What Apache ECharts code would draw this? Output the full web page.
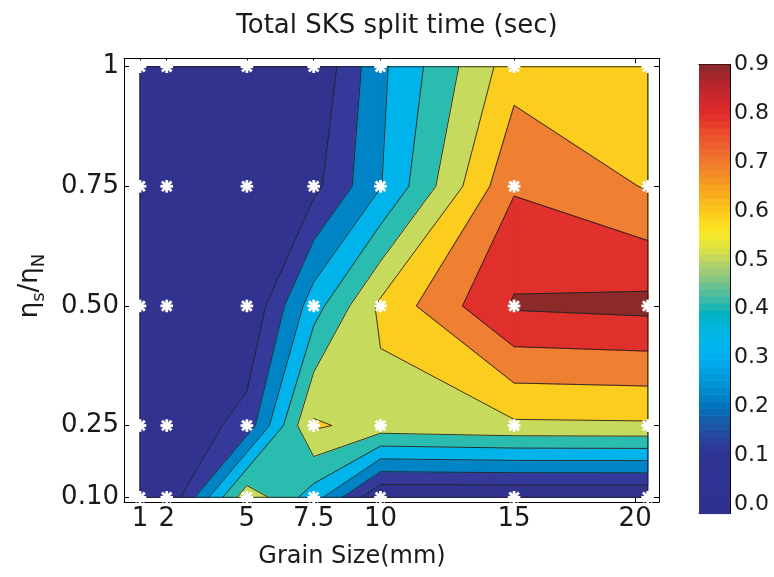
<!DOCTYPE html>
<html lang="en">
<head>
<meta charset="UTF-8">
<title>Total SKS split time</title>
<script src="https://cdn.jsdelivr.net/npm/echarts/dist/echarts.min.js"></script>
<style>
    body { margin: 0; background: #fff; }
    #main { width: 774px; height: 577px; }
</style>
</head>
<body>
<div id="main"></div>
<script>
// grid of the contour data (x = grain size, y = eta_s/eta_N)
var xVals = [1, 2, 5, 7.5, 10, 15, 20];
var yVals = [0.1, 0.25, 0.5, 0.75, 1];
// split time (sec), one row per y value, left to right in x
var zRow010 = [0.00, 0.00, 0.571, 0.349, 0.00, 0.00, 0.00];
var zRow025 = [0.02, 0.01, 0.140, 0.615, 0.560, 0.583, 0.587];
var zRow050 = [0.01, 0.00, 0.000, 0.357, 0.622, 0.912, 0.929];
var zRow075 = [0.01, 0.01, 0.010, 0.071, 0.295, 0.790, 0.693];
var zRow100 = [0.01, 0.01, 0.000, 0.006, 0.278, 0.657, 0.660];
var zGrid = [zRow010, zRow025, zRow050, zRow075, zRow100];

var levels = [0.1, 0.2, 0.3, 0.4, 0.5, 0.6, 0.7, 0.8, 0.9];
var xTickValues = [1, 2, 5, 7.5, 10, 15, 19.53];
var xTickLabels = ['1', '2', '5', '7.5', '10', '15', '20'];
var yTickValues = [0.1, 0.25, 0.5, 0.75, 1];
var yTickLabels = ['0.10', '0.25', '0.50', '0.75', '1'];
var cbTicks = [0, 0.1, 0.2, 0.3, 0.4, 0.5, 0.6, 0.7, 0.8, 0.9];

// fill colour of each band (below 0.1, 0.1-0.2, ... above 0.9)
var bandColors = ['#31338f', '#35399a', '#0084c6', '#00b4eb', '#2bbcb0',
                  '#c6db5e', '#fbcd1e', '#ef7f31', '#e0302b', '#8b2a28'];
// colour bar ramp
var cbStops = [[-0.02, '#2f3191'], [0.10, '#2e3392'], [0.12, '#2c3a96'], [0.14, '#2447a0'],
               [0.17, '#155ba8'], [0.20, '#0072bc'], [0.23, '#0088cc'], [0.27, '#00a0e0'],
               [0.30, '#00aeef'], [0.33, '#00b5ec'], [0.36, '#00b5dc'], [0.39, '#00b3c3'],
               [0.41, '#2cb8ad'], [0.44, '#60bf97'], [0.47, '#93c97b'], [0.50, '#bcd562'],
               [0.52, '#d8df45'], [0.55, '#f3e92b'], [0.57, '#fde022'], [0.60, '#fcc81a'],
               [0.65, '#f7a11f'], [0.70, '#f07a2e'], [0.75, '#ec552c'], [0.80, '#e12b2b'],
               [0.86, '#b8262d'], [0.90, '#86282b']];
var CB_MIN = -0.0195, CB_MAX = 0.9, CB_STEPS = 64;

var FONT = 'DejaVu Sans';
var INK = '#1a1a1a';

function hexToRgb(h) {
    return [parseInt(h.substr(1, 2), 16), parseInt(h.substr(3, 2), 16), parseInt(h.substr(5, 2), 16)];
}
function rampColor(v) {
    if (v <= cbStops[0][0]) return cbStops[0][1];
    for (var k = 1; k < cbStops.length; k++) {
        if (v <= cbStops[k][0]) {
            var a = cbStops[k - 1], b = cbStops[k];
            var t = (v - a[0]) / (b[0] - a[0]);
            var ca = hexToRgb(a[1]), cb = hexToRgb(b[1]);
            return 'rgb(' + ca.map(function (c, n) { return Math.round(c + t * (cb[n] - c)); }).join(',') + ')';
        }
    }
    return cbStops[cbStops.length - 1][1];
}

function cellCorners(i, j) {
    return [
        {x: xVals[i], y: yVals[j], z: zGrid[j][i]},
        {x: xVals[i + 1], y: yVals[j], z: zGrid[j][i + 1]},
        {x: xVals[i + 1], y: yVals[j + 1], z: zGrid[j + 1][i + 1]},
        {x: xVals[i], y: yVals[j + 1], z: zGrid[j + 1][i]}
    ];
}

// region z >= L inside one cell, plus the iso segments (marching squares)
function cutCell(c, L) {
    var up = c.map(function (p) { return p.z >= L; });
    var cross = [];
    for (var k = 0; k < 4; k++) {
        var a = c[k], b = c[(k + 1) % 4];
        if (up[k] !== up[(k + 1) % 4]) {
            var t = (L - a.z) / (b.z - a.z);
            cross[k] = [a.x + t * (b.x - a.x), a.y + t * (b.y - a.y)];
        }
    }
    var polys = [], segs = [];
    var saddle = up[0] === up[2] && up[1] === up[3] && up[0] !== up[1];
    var mid = (c[0].z + c[1].z + c[2].z + c[3].z) / 4;
    if (!saddle || mid >= L) {
        var pts = [];
        for (k = 0; k < 4; k++) {
            if (up[k]) pts.push([c[k].x, c[k].y]);
            if (cross[k]) pts.push(cross[k]);
        }
        if (pts.length >= 3) polys.push(pts);
        if (!saddle) {
            var cs = cross.filter(Boolean);
            if (cs.length === 2) segs.push(cs);
        } else {
            for (k = 0; k < 4; k++) if (!up[k]) segs.push([cross[(k + 3) % 4], cross[k]]);
        }
    } else {
        for (k = 0; k < 4; k++) {
            if (up[k]) {
                polys.push([cross[(k + 3) % 4], [c[k].x, c[k].y], cross[k]]);
                segs.push([cross[(k + 3) % 4], cross[k]]);
            }
        }
    }
    return {polys: polys, segs: segs};
}

var cells = [];
for (var j = 0; j < yVals.length - 1; j++) {
    for (var i = 0; i < xVals.length - 1; i++) {
        cells.push([(xVals[i] + xVals[i + 1]) / 2, (yVals[j] + yVals[j + 1]) / 2, i, j]);
    }
}
// one fill item per band, drawn from the lowest band upwards
var bands = bandColors.map(function (col, m) { return [xVals[0], yVals[0], m]; });

var gridPts = [];
yVals.forEach(function (y) { xVals.forEach(function (x) { gridPts.push([x, y]); }); });

var cbData = [];
for (var s = 0; s < CB_STEPS; s++) {
    var lo = CB_MIN + s * (CB_MAX - CB_MIN) / CB_STEPS;
    var hi = CB_MIN + (s + 1) * (CB_MAX - CB_MIN) / CB_STEPS;
    cbData.push([0.5, (lo + hi) / 2, lo, hi]);
}

function toPix(api, pts) {
    return pts.map(function (p) { return api.coord(p); });
}

function renderBand(params, api) {
    var m = api.value(2);
    var col = bandColors[m];
    var st = {fill: col, stroke: col, lineWidth: 1.2, lineJoin: 'round'};
    var children = [];
    cells.forEach(function (cell) {
        var c = cellCorners(cell[2], cell[3]);
        var polys = m === 0 ? [c.map(function (p) { return [p.x, p.y]; })] : cutCell(c, levels[m - 1]).polys;
        polys.forEach(function (poly) {
            children.push({type: 'polygon', shape: {points: toPix(api, poly)}, style: st});
        });
    });
    return {type: 'group', children: children};
}

function renderLines(params, api) {
    var i = api.value(2), j = api.value(3);
    var c = cellCorners(i, j);
    var lineStyle = {stroke: '#222', lineWidth: 0.9, fill: null};
    var children = [];
    levels.forEach(function (L) {
        cutCell(c, L).segs.forEach(function (sg) {
            children.push({type: 'polyline', shape: {points: toPix(api, sg)}, style: lineStyle});
        });
    });
    var edges = [];
    if (j === 0) edges.push([c[0], c[1]]);
    if (i === xVals.length - 2) edges.push([c[1], c[2]]);
    if (j === yVals.length - 2) edges.push([c[2], c[3]]);
    if (i === 0) edges.push([c[3], c[0]]);
    edges.forEach(function (e) {
        children.push({type: 'polyline', shape: {points: toPix(api, [[e[0].x, e[0].y], [e[1].x, e[1].y]])}, style: lineStyle});
    });
    return {type: 'group', children: children};
}

function renderMarker(params, api) {
    var p = api.coord([api.value(0), api.value(1)]);
    var r = 6.3, d = 4.8;
    var st = {stroke: '#fff', lineWidth: 2.8};
    return {type: 'group', children: [
        {type: 'line', shape: {x1: p[0] - r, y1: p[1], x2: p[0] + r, y2: p[1]}, style: st},
        {type: 'line', shape: {x1: p[0], y1: p[1] - r, x2: p[0], y2: p[1] + r}, style: st},
        {type: 'line', shape: {x1: p[0] - d, y1: p[1] - d, x2: p[0] + d, y2: p[1] + d}, style: st},
        {type: 'line', shape: {x1: p[0] - d, y1: p[1] + d, x2: p[0] + d, y2: p[1] - d}, style: st}
    ]};
}

function renderStrip(params, api) {
    var p1 = api.coord([0, api.value(2)]);
    var p2 = api.coord([1, api.value(3)]);
    return {
        type: 'rect',
        shape: {x: p1[0], y: p2[1], width: p2[0] - p1[0], height: p1[1] - p2[1] + 0.6},
        style: {fill: rampColor(api.value(1))}
    };
}

function pickLabel(values, labels) {
    return function (v) {
        for (var k = 0; k < values.length; k++) {
            if (Math.abs(values[k] - v) < 1e-6) return labels[k];
        }
        return '';
    };
}

var frame = {show: true, onZero: false, lineStyle: {color: '#000', width: 1}};
var noSplit = {show: false};
var tickStyle = {color: '#000', width: 1};

var option = {
    animation: false,
    backgroundColor: '#fff',
    title: {
        text: 'Total SKS split time (sec)',
        left: 392,
        top: 8,
        textAlign: 'center',
        textStyle: {fontFamily: FONT, fontSize: 26, fontWeight: 'normal', color: INK}
    },
    grid: [
        {left: 124, right: 115, top: 58.3, bottom: 75},
        {left: 699, top: 64.5, width: 31, height: 449}
    ],
    xAxis: [
        {type: 'value', gridIndex: 0, min: 0.401, max: 20.423, position: 'bottom',
            axisLine: frame, splitLine: noSplit,
            axisTick: {show: true, inside: true, length: 5, customValues: xTickValues, lineStyle: tickStyle},
            axisLabel: {show: true, customValues: xTickValues, formatter: pickLabel(xTickValues, xTickLabels),
                fontFamily: FONT, fontSize: 26, color: INK, margin: 4}},
        {type: 'value', gridIndex: 0, min: 0.401, max: 20.423, position: 'top',
            axisLine: frame, splitLine: noSplit, axisLabel: {show: false},
            axisTick: {show: true, inside: true, length: 5, customValues: xTickValues, lineStyle: tickStyle}},
        {type: 'value', gridIndex: 1, min: 0, max: 1, position: 'bottom',
            axisLine: frame, splitLine: noSplit, axisTick: {show: false}, axisLabel: {show: false}},
        {type: 'value', gridIndex: 1, min: 0, max: 1, position: 'top',
            axisLine: frame, splitLine: noSplit, axisTick: {show: false}, axisLabel: {show: false}}
    ],
    yAxis: [
        {type: 'value', gridIndex: 0, min: 0.0902, max: 1.0176, position: 'left',
            axisLine: frame, splitLine: noSplit,
            axisTick: {show: true, inside: true, length: 5, customValues: yTickValues, lineStyle: tickStyle},
            axisLabel: {show: true, customValues: yTickValues, formatter: pickLabel(yTickValues, yTickLabels),
                fontFamily: FONT, fontSize: 26, color: INK, margin: 5}},
        {type: 'value', gridIndex: 0, min: 0.0902, max: 1.0176, position: 'right',
            axisLine: frame, splitLine: noSplit, axisLabel: {show: false},
            axisTick: {show: true, inside: true, length: 5, customValues: yTickValues, lineStyle: tickStyle}},
        {type: 'value', gridIndex: 1, min: CB_MIN, max: CB_MAX, position: 'left',
            axisLine: frame, splitLine: noSplit, axisLabel: {show: false},
            axisTick: {show: true, inside: true, length: 4, customValues: cbTicks, lineStyle: tickStyle}},
        {type: 'value', gridIndex: 1, min: CB_MIN, max: CB_MAX, position: 'right',
            axisLine: frame, splitLine: noSplit,
            axisTick: {show: true, inside: true, length: 4, customValues: cbTicks, lineStyle: tickStyle},
            axisLabel: {show: true, customValues: cbTicks, formatter: function (v) { return v.toFixed(1); },
                fontFamily: FONT, fontSize: 22, color: INK, margin: 4}}
    ],
    graphic: [
        {type: 'text', x: 352, y: 557,
            style: {text: 'Grain Size(mm)', font: '24px "DejaVu Sans"', fill: INK, align: 'center', verticalAlign: 'middle'}},
        {type: 'text', x: 30, y: 286, rotation: Math.PI / 2,
            style: {text: '{e|η}{s|s}{e|/η}{s|N}', fill: INK, align: 'center', verticalAlign: 'middle',
                rich: {
                    e: {fontFamily: FONT, fontSize: 26, lineHeight: 26, verticalAlign: 'top', fill: INK},
                    s: {fontFamily: FONT, fontSize: 18, lineHeight: 18, verticalAlign: 'top', padding: [13, 0, 0, 0], fill: INK}
                }}}
    ],
    series: [
        {type: 'custom', name: 'fill', xAxisIndex: 0, yAxisIndex: 0, silent: true, z: 2,
            renderItem: renderBand, data: bands},
        {type: 'custom', name: 'contours', xAxisIndex: 0, yAxisIndex: 0, silent: true, z: 3,
            renderItem: renderLines, data: cells},
        {type: 'custom', name: 'samples', xAxisIndex: 0, yAxisIndex: 0, silent: true, z: 5,
            renderItem: renderMarker, data: gridPts},
        {type: 'custom', name: 'colorbar', xAxisIndex: 2, yAxisIndex: 2, silent: true, z: 2,
            renderItem: renderStrip, data: cbData}
    ]
};

var chart = echarts.init(document.getElementById('main'), null, {renderer: 'canvas'});
chart.setOption(option);
</script>
</body>
</html>
